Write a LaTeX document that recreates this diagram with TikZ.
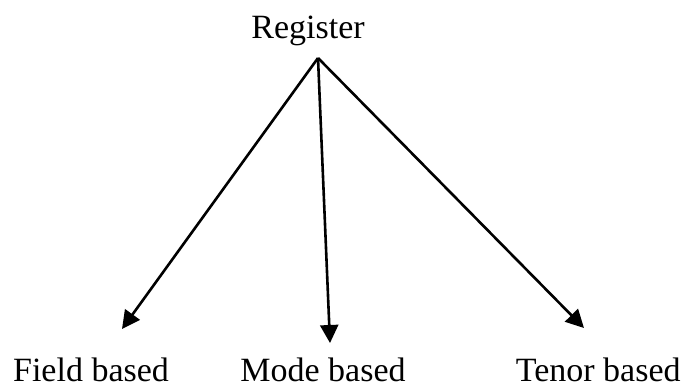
\documentclass[tikz,border=0pt]{standalone}
\usepackage{fontspec}
\setmainfont{Liberation Serif}
\usetikzlibrary{arrows.meta}

\begin{document}
\begin{tikzpicture}[x=0.5pt,y=-0.5pt,
   lbl/.style={font=\fontsize{17}{20}\selectfont, inner sep=0pt},
   arr/.style={line width=1.3pt, -{Triangle[length=9pt,width=9pt]}}]
   \useasboundingbox (0,0) rectangle (685,387);
   \node[lbl, anchor=base] (reg) at (308,38) {Register};
   \coordinate (top) at (318,58);
   \coordinate (fend) at (122,329);
   \coordinate (mend) at (330,343);
   \coordinate (tend) at (584,328);
   \draw[arr] (top) -- (fend);
   \draw[arr] (top) -- (mend);
   \draw[arr] (top) -- (tend);
   \node[lbl, anchor=base] (field) at (91,381) {Field based};
   \node[lbl, anchor=base] (mode) at (323,381) {Mode based};
   \node[lbl, anchor=base east] (tenor) at (681,381) {Tenor based};
  \end{tikzpicture}
\end{document}
